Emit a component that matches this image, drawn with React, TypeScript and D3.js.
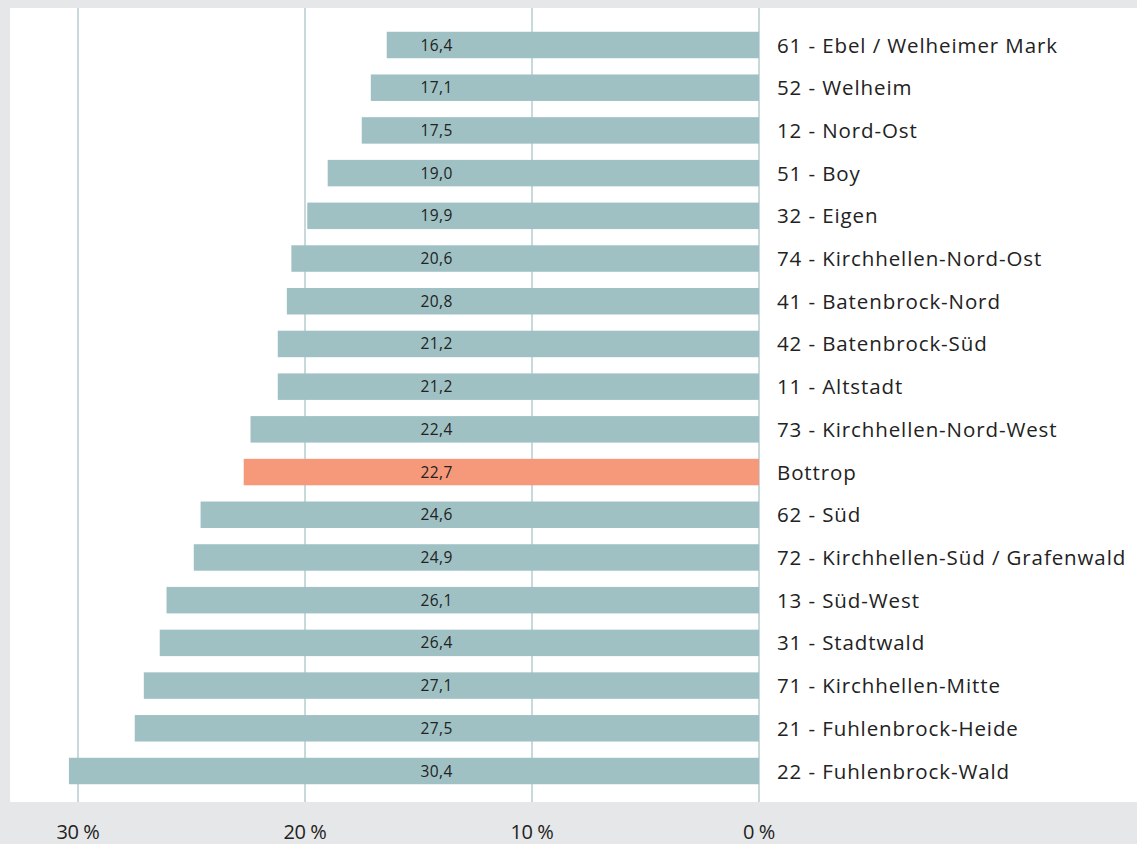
import React from "react";
import { scaleLinear, scalePoint } from "d3";

const categories = [
  "61 - Ebel / Welheimer Mark",
  "52 - Welheim",
  "12 - Nord-Ost",
  "51 - Boy",
  "32 - Eigen",
  "74 - Kirchhellen-Nord-Ost",
  "41 - Batenbrock-Nord",
  "42 - Batenbrock-Süd",
  "11 - Altstadt",
  "73 - Kirchhellen-Nord-West",
  "Bottrop",
  "62 - Süd",
  "72 - Kirchhellen-Süd / Grafenwald",
  "13 - Süd-West",
  "31 - Stadtwald",
  "71 - Kirchhellen-Mitte",
  "21 - Fuhlenbrock-Heide",
  "22 - Fuhlenbrock-Wald",
];
const values = [
  16.4, 17.1, 17.5, 19.0, 19.9, 20.6, 20.8, 21.2, 21.2, 22.4, 22.7, 24.6, 24.9,
  26.1, 26.4, 27.1, 27.5, 30.4,
];
const ticks = [0, 10, 20, 30];
const highlight = "Bottrop";

const App = () => {
  const width = 1137;
  const height = 844;
  const plot = { left: 10, top: 8, right: 1137, bottom: 802 };
  const font = "'Open Sans', 'Noto Sans', sans-serif";

  const x = scaleLinear().domain([0, 30]).range([759, 78]);
  const y = scalePoint().domain(categories).range([45, 771]);
  const barH = y.step() * 0.62;
  // value labels all sit in one column, not at bar centres
  const labelX = x(14.2);

  return (
    <svg
      width={width}
      height={height}
      style={{ position: "fixed", left: 0, top: 0 }}
    >
      <rect width={width} height={height} fill="#e6e7e9" />
      <rect
        x={plot.left}
        y={plot.top}
        width={plot.right - plot.left}
        height={plot.bottom - plot.top}
        fill="#ffffff"
      />
      {ticks.map((t) => (
        <g key={t}>
          <line
            x1={x(t)}
            x2={x(t)}
            y1={plot.top}
            y2={plot.bottom}
            stroke="#8fb3b6"
            strokeWidth={1}
          />
          <text
            x={x(t)}
            y={839}
            textAnchor="middle"
            fontFamily={font}
            fontSize={20}
            fill="#222"
            letterSpacing={-0.4}
          >
            {t} %
          </text>
        </g>
      ))}
      {categories.map((c, i) => (
        <g key={c}>
          <rect
            x={x(values[i])}
            y={y(c)! - barH / 2}
            width={x(0) - x(values[i])}
            height={barH}
            fill={c === highlight ? "#f6997a" : "#9fc1c3"}
          />
          <text
            x={labelX}
            y={y(c)! + 5.5}
            textAnchor="middle"
            fontFamily={font}
            fontSize={15.5}
            letterSpacing={0.4}
            fill="#222"
          >
            {values[i].toFixed(1).replace(".", ",")}
          </text>
          <text
            x={777}
            y={y(c)! + 7.5}
            fontFamily={font}
            fontSize={20.5}
            letterSpacing={0.9}
            fill="#222"
          >
            {c}
          </text>
        </g>
      ))}
    </svg>
  );
};

export default App;
